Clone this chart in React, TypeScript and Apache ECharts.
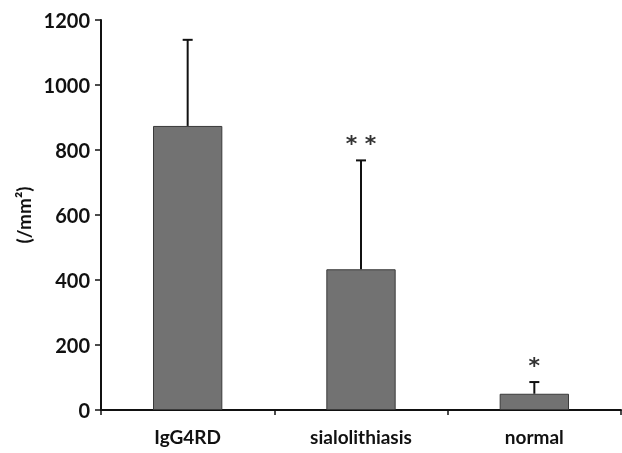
import React, { useEffect, useRef } from "react";
import * as echarts from "echarts";

const categories = ["IgG4RD", "sialolithiasis", "normal"];
const means = [874, 433, 50];
const upperErrors = [1139, 768, 86];
const marks = ["", "**", "*"];
const yTicks = { min: 0, max: 1200, interval: 200 };

const FONT = "Lato, 'Open Sans', sans-serif";

export default function App() {
  const ref = useRef<HTMLDivElement>(null);
  useEffect(() => {
    if (!ref.current) return;
    const chart = echarts.init(ref.current, null, { renderer: "svg" });
    const errData = categories.map((c, i) => [i, means[i], upperErrors[i]]);
    chart.setOption({
      animation: false,
      grid: { left: 101, right: 1, top: 20, bottom: 43 },
      xAxis: {
        type: "category",
        data: categories,
        axisLine: { lineStyle: { color: "#111", width: 2 } },
        axisTick: { show: true, alignWithLabel: false, length: 5, lineStyle: { color: "#111", width: 1.5 } },
        axisLabel: { color: "#111", fontSize: 19, fontWeight: "bold", fontFamily: FONT, margin: 17 },
        splitLine: { show: false },
      },
      yAxis: {
        type: "value",
        min: yTicks.min,
        max: yTicks.max,
        interval: yTicks.interval,
        name: "(/mm²)",
        nameLocation: "middle",
        nameGap: 64,
        nameRotate: 90,
        nameTextStyle: { color: "#111", fontSize: 19, fontWeight: "bold", fontFamily: FONT },
        axisLine: { show: true, lineStyle: { color: "#111", width: 2 } },
        axisTick: { show: true, length: 6, lineStyle: { color: "#111", width: 1.5 } },
        axisLabel: { color: "#111", fontSize: 20, fontWeight: "bold", fontFamily: FONT, margin: 11, formatter: (v: number) => String(v) },
        splitLine: { show: false },
      },
      series: [
        {
          type: "bar",
          data: means,
          barWidth: "40%",
          itemStyle: { color: "#727272", borderColor: "#3a3a3a", borderWidth: 1 },
          z: 2,
        },
        {
          type: "custom",
          data: errData,
          z: 3,
          renderItem: (params: any, api: any) => {
            const i = api.value(0);
            const lo = api.coord([i, api.value(1)]);
            const hi = api.coord([i, api.value(2)]);
            const mark = marks[params.dataIndex];
            const children: any[] = [
              { type: "line", shape: { x1: lo[0], y1: lo[1], x2: hi[0], y2: hi[1] }, style: { stroke: "#111", lineWidth: 2 } },
              { type: "line", shape: { x1: hi[0] - 5, y1: hi[1], x2: hi[0] + 5, y2: hi[1] }, style: { stroke: "#111", lineWidth: 2 } },
            ];
            if (mark) {
              children.push({
                type: "text",
                x: hi[0],
                y: hi[1] - 17,
                style: { text: mark.split("").join(" "), fill: "#333", font: `bold 22px 'DejaVu Sans', sans-serif`, align: "center", verticalAlign: "middle" },
              });
            }
            return { type: "group", children };
          },
        },
      ],
    });
    return () => chart.dispose();
  }, []);
  return <div ref={ref} style={{ position: "fixed", left: 0, top: 0, width: 622, height: 453 }} />;
}
